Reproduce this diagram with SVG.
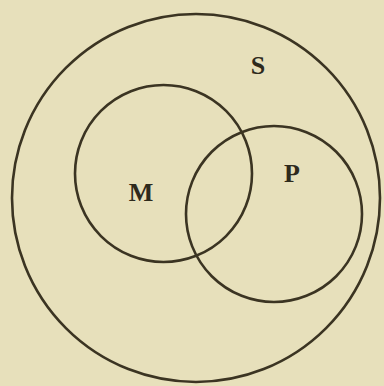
<svg xmlns="http://www.w3.org/2000/svg" width="384" height="386" viewBox="0 0 384 386">
<style>
.c{fill:none;stroke:#3b3422;stroke-width:2.6}
.t{font-family:"Liberation Serif",serif;font-weight:bold;font-size:26px;fill:#2e2a1c;text-anchor:middle}
</style>
<rect width="384" height="386" fill="#e7e0bb"/>
<g id="S"><circle class="c" cx="196" cy="198" r="184"/><text class="t" x="258" y="74">S</text></g>
<g id="M"><circle class="c" cx="163.5" cy="173.5" r="88.5"/><text class="t" x="141" y="201">M</text></g>
<g id="P"><circle class="c" cx="274" cy="214" r="88"/><text class="t" x="292" y="182">P</text></g>
<g id="connectors"/>
</svg>
